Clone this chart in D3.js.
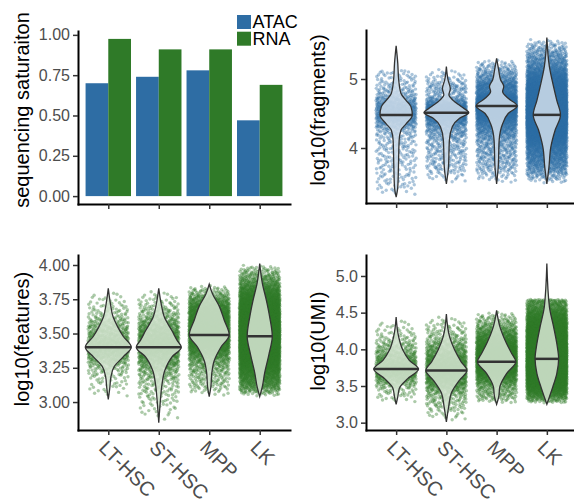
<!DOCTYPE html>
<html>
<head>
<meta charset="utf-8">
<script src="https://cdn.jsdelivr.net/npm/d3@7"></script>
<style>
  body { margin: 0; background: #fff; }
</style>
</head>
<body>
<script>
// ---- data ----
var cellTypes = ["LT-HSC", "ST-HSC", "MPP", "LK"];
var assays = ["ATAC", "RNA"];
var atacSaturation = [0.70, 0.74, 0.78, 0.47];
var rnaSaturation = [0.975, 0.91, 0.91, 0.69];

var satTicks = [0, 0.25, 0.5, 0.75, 1];
var fragTicks = [4, 5];
var featTicks = [3, 3.25, 3.5, 3.75, 4];
var umiTicks = [3, 3.5, 4, 4.5, 5];

// violin outlines: [log10 value, relative density]
var fragLT  = [[3.29,0],[3.43,.07],[3.72,.10],[4.11,.13],[4.26,.21],[4.35,.43],[4.48,.70],[4.60,.64],[4.69,.43],[4.79,.21],[4.99,.11],[5.23,.07],[5.48,0]];
var fragST  = [[3.48,0],[3.72,.09],[4.11,.13],[4.31,.26],[4.43,.57],[4.51,.97],[4.60,.64],[4.69,.29],[4.77,.11],[4.86,.17],[4.99,.07],[5.18,0]];
var fragMPP = [[3.48,0],[3.72,.07],[4.11,.11],[4.35,.26],[4.50,.50],[4.61,.89],[4.72,.50],[4.82,.26],[4.89,.31],[4.99,.17],[5.13,.09],[5.30,0]];
var fragLK  = [[3.48,0],[3.72,.09],[4.01,.17],[4.26,.36],[4.48,.59],[4.69,.43],[4.89,.29],[5.18,.11],[5.60,0]];

var featLT  = [[3.02,0],[3.11,.07],[3.18,.11],[3.26,.26],[3.33,.64],[3.40,.99],[3.48,.64],[3.55,.40],[3.62,.21],[3.72,.09],[3.83,0]];
var featST  = [[2.85,0],[3.01,.07],[3.13,.14],[3.23,.26],[3.33,.57],[3.40,.97],[3.45,.79],[3.52,.57],[3.62,.24],[3.72,.10],[3.83,0]];
var featMPP = [[3.04,0],[3.11,.07],[3.21,.11],[3.30,.21],[3.40,.50],[3.49,.86],[3.60,.64],[3.70,.43],[3.79,.14],[3.86,0]];
var featLK  = [[3.04,0],[3.11,.11],[3.21,.21],[3.35,.40],[3.48,.54],[3.62,.43],[3.74,.29],[3.87,.11],[4.01,0]];

var umiLT  = [[3.25,0],[3.35,.07],[3.47,.14],[3.60,.50],[3.73,.97],[3.85,.57],[3.99,.29],[4.17,.11],[4.44,0]];
var umiST  = [[3.01,0],[3.22,.10],[3.40,.21],[3.58,.57],[3.71,.89],[3.83,.64],[3.99,.36],[4.17,.14],[4.48,0]];
var umiMPP = [[3.25,0],[3.35,.09],[3.49,.14],[3.67,.43],[3.83,.83],[3.95,.64],[4.08,.43],[4.31,.14],[4.53,0]];
var umiLK  = [[3.25,0],[3.35,.11],[3.49,.26],[3.67,.43],[3.87,.51],[4.08,.43],[4.31,.29],[4.58,.11],[5.17,0]];

var fragMedian = [4.48, 4.51, 4.61, 4.48];
var featMedian = [3.40, 3.40, 3.49, 3.48];
var umiMedian  = [3.73, 3.71, 3.83, 3.87];

// approximate number of cells per group and range covered by the jittered cells
var atacCells = [850, 1300, 2600, 6000];
var rnaCells  = [800, 1300, 2500, 6000];
var fragRange = [[3.29, 5.13], [3.48, 5.20], [3.48, 5.30], [3.48, 5.60]];
var featRange = [[3.02, 3.82], [2.85, 3.84], [3.04, 3.86], [3.04, 4.02]];
var umiRange  = [[3.27, 4.45], [3.01, 4.48], [3.27, 4.52], [3.27, 4.68]];

// ---- drawing ----
var fontFamily = '"Liberation Sans", Arial, Helvetica, sans-serif';
var blue = "#2e6da4", green = "#2f7a28";

var svg = d3.select("body").append("svg")
  .attr("width", 574)
  .attr("height", 503)
  .style("font-family", fontFamily);

function makeX(left, right) {
  return d3.scalePoint().domain(cellTypes).range([left, right]).padding(0.6);
}

function drawAxes(x, y, ticks, fmt, left, bottom, labels) {
  var gy = svg.append("g")
    .attr("transform", "translate(" + left + ",0)")
    .call(d3.axisLeft(y).tickValues(ticks).tickFormat(d3.format(fmt))
      .tickSize(5).tickPadding(3).tickSizeOuter(0));
  var gx = svg.append("g")
    .attr("transform", "translate(0," + bottom + ")")
    .call(d3.axisBottom(x).tickSize(5).tickSizeOuter(0));

  [gx, gy].forEach(function(g) {
    g.attr("font-family", fontFamily);
    g.select(".domain").attr("stroke", "#000").attr("stroke-width", 2)
      .attr("stroke-linecap", "square");
    g.selectAll(".tick line").attr("stroke", "#333").attr("stroke-width", 1.5);
  });
  gy.attr("font-size", 16).selectAll("text").attr("fill", "#4d4d4d");

  if (labels) {
    gx.attr("font-size", 20).selectAll("text")
      .attr("fill", "#4d4d4d")
      .attr("x", 0).attr("y", 0).attr("dy", 0)
      .attr("text-anchor", "start")
      .attr("transform", "translate(-11,19) rotate(45)");
  } else {
    gx.selectAll("text").remove();
  }
}

function yTitle(text, x, y) {
  svg.append("text")
    .attr("transform", "translate(" + x + "," + y + ") rotate(-90)")
    .attr("text-anchor", "middle")
    .attr("font-size", 20)
    .attr("fill", "#000")
    .text(text);
}

// low-discrepancy layout sequence used to spread the cells (jitter layout)
function halton(i, b) {
  var f = 1, r = 0;
  while (i > 0) { f /= b; r += f * (i % b); i = Math.floor(i / b); }
  return r;
}

// spread n cells over [lo, hi] following the violin density, jittered sideways
function placeCells(profile, lo, hi, n) {
  var dens = d3.scaleLinear().domain(profile.map(function(d) { return d[0]; }))
    .range(profile.map(function(d) { return d[1]; })).clamp(true);
  var steps = 400;
  var grid = d3.range(steps + 1).map(function(i) { return lo + (hi - lo) * i / steps; });
  var cum = [0];
  for (var i = 1; i <= steps; i++) {
    cum.push(cum[i - 1] + (dens(grid[i - 1]) + dens(grid[i])) / 2 + 1e-4);
  }
  var total = cum[steps];
  var cells = [];
  for (var k = 0; k < n; k++) {
    var u = halton(k + 17, 2) * total;
    var j = Math.max(1, d3.bisectLeft(cum, u));
    var t = (u - cum[j - 1]) / (cum[j] - cum[j - 1]);
    cells.push({ value: grid[j - 1] + t * (grid[j] - grid[j - 1]),
                 jitter: halton(k + 17, 3) * 2 - 1 });
  }
  return cells;
}

function drawViolinPanel(x, y, profiles, medians, counts, ranges, color, fill) {
  var step = x.step();
  var w = d3.scaleLinear().domain([0, 1]).range([0, 0.46 * step]);
  var g = svg.append("g");

  cellTypes.forEach(function(c, i) {
    var cx = x(c);
    var cells = placeCells(profiles[i], ranges[i][0], ranges[i][1], counts[i]);
    g.append("g").selectAll("circle")
      .data(cells)
      .enter()
      .append("circle")
        .attr("cx", function(d) { return cx + d.jitter * 0.4 * step; })
        .attr("cy", function(d) { return y(d.value); })
        .attr("r", 1.7)
        .attr("fill", color)
        .attr("fill-opacity", 0.4);
  });

  cellTypes.forEach(function(c, i) {
    var cx = x(c);
    var prof = profiles[i].slice().reverse();
    var area = d3.area()
      .curve(d3.curveMonotoneY)
      .y(function(d) { return y(d[0]); })
      .x0(function(d) { return cx - w(d[1]); })
      .x1(function(d) { return cx + w(d[1]); });
    g.append("path")
      .attr("d", area(prof))
      .attr("fill", fill)
      .attr("fill-opacity", 0.88)
      .attr("stroke", "#333")
      .attr("stroke-width", 1.3);

    var dens = d3.scaleLinear().domain(profiles[i].map(function(d) { return d[0]; }))
      .range(profiles[i].map(function(d) { return d[1]; }));
    var hw = w(dens(medians[i]));
    g.append("line")
      .attr("x1", cx - hw).attr("x2", cx + hw)
      .attr("y1", y(medians[i])).attr("y2", y(medians[i]))
      .attr("stroke", "#333")
      .attr("stroke-width", 2.5);
  });
}

// ---- panel A: sequencing saturation bars ----
var xA = makeX(78, 290);
var yA = d3.scaleLinear().domain([-0.049, 1.024]).range([204, 31]);
var dodge = d3.scaleBand().domain(assays)
  .range([-0.45 * xA.step(), 0.45 * xA.step()]);
var satRows = [];
cellTypes.forEach(function(c, i) {
  satRows.push({ cell: c, assay: "ATAC", value: atacSaturation[i] });
  satRows.push({ cell: c, assay: "RNA", value: rnaSaturation[i] });
});
svg.append("g").selectAll("rect")
  .data(satRows)
  .enter()
  .append("rect")
    .attr("x", function(d) { return xA(d.cell) + dodge(d.assay); })
    .attr("y", function(d) { return yA(d.value); })
    .attr("width", dodge.bandwidth())
    .attr("height", function(d) { return yA(0) - yA(d.value); })
    .attr("fill", function(d) { return d.assay === "ATAC" ? blue : green; });
drawAxes(xA, yA, satTicks, ".2f", 78, 204, false);
yTitle("sequencing saturaiton", 29, 110);

// legend
var legend = svg.append("g").attr("transform", "translate(237,15)");
assays.forEach(function(a, i) {
  legend.append("rect")
    .attr("x", 0).attr("y", i * 16.7)
    .attr("width", 14).attr("height", 14)
    .attr("fill", a === "ATAC" ? blue : green);
  legend.append("text")
    .attr("x", 15.5).attr("y", i * 16.7 + 7)
    .attr("dy", "0.36em")
    .attr("font-size", 18)
    .attr("fill", "#000")
    .text(a);
});

// ---- panel B: fragments ----
var xB = makeX(366, 577);
var yB = d3.scaleLinear().domain([3.203, 5.71]).range([203, 30]);
drawViolinPanel(xB, yB, [fragLT, fragST, fragMPP, fragLK], fragMedian,
  atacCells, fragRange, blue, "#c9d9e8");
drawAxes(xB, yB, fragTicks, "d", 366, 203, false);
yTitle("log10(fragments)", 325, 110);

// ---- panel C: features ----
var xC = makeX(78, 290);
var yC = d3.scaleLinear().domain([2.796, 4.073]).range([430, 255]);
drawViolinPanel(xC, yC, [featLT, featST, featMPP, featLK], featMedian,
  rnaCells, featRange, green, "#d2e3ce");
drawAxes(xC, yC, featTicks, ".2f", 78, 430, true);
yTitle("log10(features)", 29, 339);

// ---- panel D: UMI ----
var xD = makeX(366, 577);
var yD = d3.scaleLinear().domain([2.90, 5.286]).range([430, 255]);
drawViolinPanel(xD, yD, [umiLT, umiST, umiMPP, umiLK], umiMedian,
  rnaCells, umiRange, green, "#d2e3ce");
drawAxes(xD, yD, umiTicks, ".1f", 366, 430, true);
yTitle("log10(UMI)", 325, 341);
</script>
</body>
</html>
